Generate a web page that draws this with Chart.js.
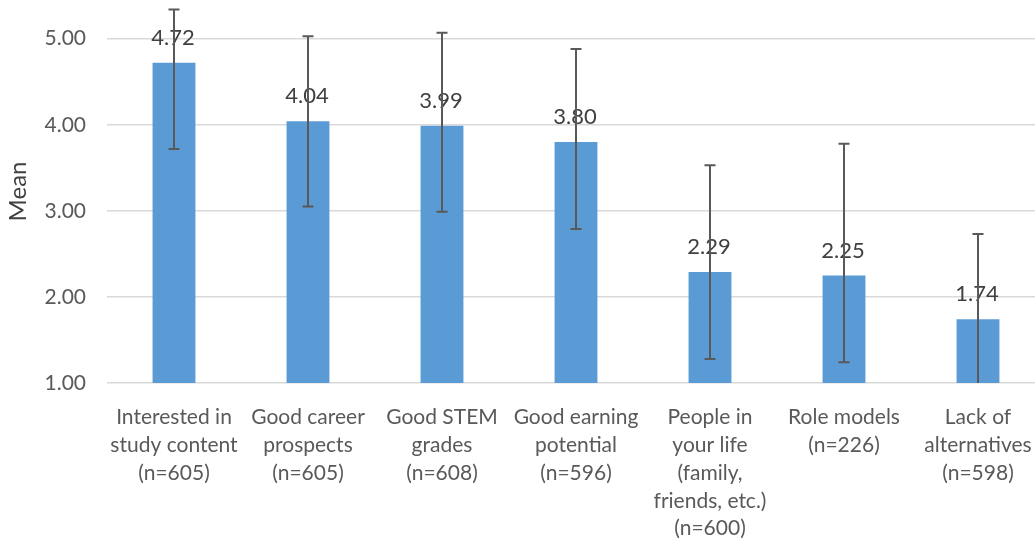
<!DOCTYPE html>
<html>
<head>
<meta charset="utf-8">
<script src="https://cdn.jsdelivr.net/npm/chart.js@4/dist/chart.umd.min.js"></script>
<style>
    html, body { margin: 0; padding: 0; background: #fff; overflow: hidden; }
    #wrap { width: 1045px; height: 545px; }
</style>
</head>
<body>
<div id="wrap"><canvas id="mean-chart" width="1045" height="545"></canvas></div>
<script>
const categories = [
    ["Interested in", "study content", "(n=605)"],
    ["Good career", "prospects", "(n=605)"],
    ["Good STEM", "grades", "(n=608)"],
    ["Good earning", "potential", "(n=596)"],
    ["People in", "your life", "(family,", "friends, etc.)", "(n=600)"],
    ["Role models", "(n=226)"],
    ["Lack of", "alternatives", "(n=598)"]
];
const means = [4.72, 4.04, 3.99, 3.80, 2.29, 2.25, 1.74];
const errHigh = [5.34, 5.03, 5.07, 4.88, 3.53, 3.78, 2.73];
const errLow = [3.72, 3.05, 2.99, 2.79, 1.28, 1.24, 1.00];
const yTicks = [1, 2, 3, 4, 5];

const FONT = "Lato, 'Open Sans', sans-serif";

// value above each bar, drawn before the error bars so the whisker runs over it
const valueLabels = {
    id: "valueLabels",
    afterDatasetsDraw(chart) {
        const ctx = chart.ctx;
        const meta = chart.getDatasetMeta(0);
        ctx.save();
        ctx.font = "22px " + FONT;
        ctx.fillStyle = "#404040";
        ctx.textAlign = "center";
        ctx.textBaseline = "middle";
        meta.data.forEach((bar, i) => {
            ctx.fillText(means[i].toFixed(2), bar.x - 1, bar.y - 25);
        });
        ctx.restore();
    }
};

const errorBars = {
    id: "errorBars",
    afterDatasetsDraw(chart) {
        const ctx = chart.ctx;
        const y = chart.scales.y;
        const meta = chart.getDatasetMeta(0);
        ctx.save();
        ctx.strokeStyle = "#595959";
        ctx.lineWidth = 2;
        meta.data.forEach((bar, i) => {
            const top = y.getPixelForValue(errHigh[i]);
            const bot = y.getPixelForValue(errLow[i]);
            ctx.beginPath();
            ctx.moveTo(bar.x, top);
            ctx.lineTo(bar.x, bot);
            ctx.moveTo(bar.x - 5.5, top);
            ctx.lineTo(bar.x + 5.5, top);
            if (errLow[i] > y.min) {
                ctx.moveTo(bar.x - 5.5, bot);
                ctx.lineTo(bar.x + 5.5, bot);
            }
            ctx.stroke();
        });
        ctx.restore();
    }
};

new Chart(document.getElementById("mean-chart"), {
    type: "bar",
    data: {
        labels: categories,
        datasets: [{
            data: means,
            backgroundColor: "#5B9BD5",
            categoryPercentage: 1,
            barPercentage: 0.32
        }]
    },
    plugins: [valueLabels, errorBars],
    options: {
        responsive: false,
        animation: false,
        layout: { padding: 0 },
        plugins: {
            legend: { display: false },
            tooltip: { enabled: false }
        },
        scales: {
            x: {
                grid: { display: false, drawTicks: false },
                border: { display: false },
                ticks: {
                    color: "#595959",
                    font: { family: FONT, size: 21, lineHeight: 1.33 },
                    padding: 20,
                    maxRotation: 0,
                    autoSkip: false
                },
                afterFit(scale) {
                    scale.height = 162;
                    scale.paddingLeft = 0;
                    scale.paddingRight = 0;
                }
            },
            y: {
                min: 1,
                max: 5.45,
                afterBuildTicks(scale) {
                    scale.ticks = yTicks.map(v => ({ value: v }));
                },
                grid: { color: "#D9D9D9", lineWidth: 1.5, drawTicks: false },
                border: { display: false },
                ticks: {
                    color: "#595959",
                    font: { family: FONT, size: 21 },
                    padding: 21,
                    callback: v => Number(v).toFixed(2)
                },
                title: {
                    display: true,
                    text: "Mean",
                    color: "#404040",
                    font: { family: FONT, size: 24 },
                    padding: { top: 4, bottom: 0 }
                },
                afterFit(scale) {
                    scale.width = 107;
                    scale.paddingTop = 0;
                    scale.paddingBottom = 0;
                }
            }
        }
    }
});
</script>
</body>
</html>
